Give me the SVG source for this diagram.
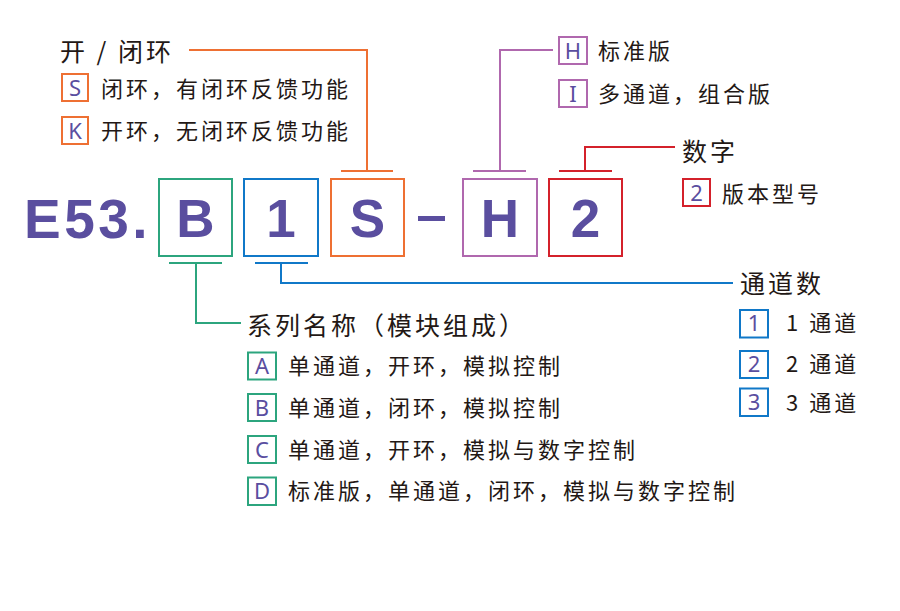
<svg xmlns="http://www.w3.org/2000/svg" width="900" height="611" viewBox="0 0 900 611">
<style>
.bg{fill:#ffffff}
.box{fill:#ffffff;stroke-width:2}
.sbox{fill:#ffffff;stroke-width:2}
.org{stroke:#ee7033}
.pur{stroke:#b068ae}
.red{stroke:#d4212b}
.grn{stroke:#2ca57e}
.blu{stroke:#1078c8}
.ln{fill:none;stroke-width:2}
.big{font-family:"Liberation Sans",Arial,sans-serif;font-weight:bold;font-size:53px;fill:#5a4e9f;text-anchor:middle}
.code{font-family:"Liberation Sans",Arial,sans-serif;font-weight:bold;font-size:55px;fill:#5a4e9f;letter-spacing:3.5px}
.key{font-family:"Noto Sans","Open Sans",sans-serif;font-size:22px;fill:#5a4e9f;text-anchor:middle}
.ttl{font-family:"Noto Sans CJK SC","Noto Sans",sans-serif;font-size:25px;fill:#231815;letter-spacing:3px}
.itm{font-family:"Noto Sans CJK SC","Noto Sans",sans-serif;font-size:22px;fill:#231815;letter-spacing:3px}
</style>
<rect class="bg" x="0" y="0" width="900" height="611"/>

<g id="connectors">
  <polyline class="ln org" points="189,50 367,50 367,171"/>
  <line class="ln org" x1="341" y1="171" x2="393" y2="171"/>
  <polyline class="ln pur" points="553,50 500,50 500,171"/>
  <line class="ln pur" x1="473" y1="171" x2="526" y2="171"/>
  <polyline class="ln red" points="675,147 585,147 585,171"/>
  <line class="ln red" x1="559" y1="171" x2="612" y2="171"/>
  <line class="ln grn" x1="169" y1="263" x2="222" y2="263"/>
  <polyline class="ln grn" points="196,263 196,323 241,323"/>
  <line class="ln blu" x1="255" y1="263" x2="308" y2="263"/>
  <polyline class="ln blu" points="281,263 281,283 733,283"/>
</g>

<g id="code">
  <text class="code" x="24" y="238">E53.</text>
  <rect x="418" y="216" width="27" height="5" fill="#5a4e9f"/>
</g>

<g id="node-B">
  <rect class="box grn" x="159" y="179" width="73" height="77"/>
  <text class="big" x="195.5" y="237">B</text>
</g>
<g id="node-1">
  <rect class="box blu" x="244" y="179" width="74" height="77"/>
  <text class="big" x="281" y="237">1</text>
</g>
<g id="node-S">
  <rect class="box org" x="331" y="179" width="73" height="77"/>
  <text class="big" x="367.5" y="237">S</text>
</g>
<g id="node-H">
  <rect class="box pur" x="463" y="179" width="74" height="77"/>
  <text class="big" x="500" y="237">H</text>
</g>
<g id="node-2">
  <rect class="box red" x="549" y="179" width="73" height="77"/>
  <text class="big" x="585.5" y="237">2</text>
</g>

<g id="legend-loop">
  <text class="ttl" x="60" y="61" xml:space="preserve">开 / 闭环</text>
  <rect class="sbox org" x="62" y="74" width="26" height="27"/>
  <text class="key" x="75" y="95.5">S</text>
  <text class="itm" x="101" y="97">闭环，有闭环反馈功能</text>
  <rect class="sbox org" x="62" y="117" width="26" height="27"/>
  <text class="key" x="75" y="138.5">K</text>
  <text class="itm" x="101" y="138.5">开环，无闭环反馈功能</text>
</g>

<g id="legend-version">
  <rect class="sbox pur" x="559" y="37" width="28" height="27"/>
  <text class="key" x="573" y="58.5">H</text>
  <text class="itm" x="598" y="59">标准版</text>
  <rect class="sbox pur" x="559" y="80" width="28" height="27"/>
  <text class="key" x="573" y="101.5">I</text>
  <text class="itm" x="598" y="102">多通道，组合版</text>
</g>

<g id="legend-digit">
  <text class="ttl" x="682" y="161">数字</text>
  <rect class="sbox red" x="683" y="179" width="27" height="27"/>
  <text class="key" x="696.5" y="200.5">2</text>
  <text class="itm" x="722" y="202">版本型号</text>
</g>

<g id="legend-channels">
  <text class="ttl" x="740" y="292.5">通道数</text>
  <rect class="sbox blu" x="740" y="310" width="28" height="27.5"/>
  <text class="key" x="754" y="331">1</text>
  <text class="itm" x="786" y="330.5">1 通道</text>
  <rect class="sbox blu" x="740" y="351" width="28" height="27"/>
  <text class="key" x="754" y="372">2</text>
  <text class="itm" x="786" y="372">2 通道</text>
  <rect class="sbox blu" x="740" y="388.5" width="28" height="27.5"/>
  <text class="key" x="754" y="410">3</text>
  <text class="itm" x="786" y="411">3 通道</text>
</g>

<g id="legend-series">
  <text class="ttl" x="247" y="334.5">系列名称（模块组成）</text>
  <rect class="sbox grn" x="248" y="352.5" width="28" height="27"/>
  <text class="key" x="262" y="374">A</text>
  <text class="itm" x="288" y="374">单通道，开环，模拟控制</text>
  <rect class="sbox grn" x="248" y="394" width="28" height="27"/>
  <text class="key" x="262" y="415.5">B</text>
  <text class="itm" x="288" y="416">单通道，闭环，模拟控制</text>
  <rect class="sbox grn" x="248" y="436" width="28" height="27"/>
  <text class="key" x="262" y="457.5">C</text>
  <text class="itm" x="288" y="457.5">单通道，开环，模拟与数字控制</text>
  <rect class="sbox grn" x="248" y="477.5" width="28" height="27.5"/>
  <text class="key" x="262" y="499">D</text>
  <text class="itm" x="288" y="499">标准版，单通道，闭环，模拟与数字控制</text>
</g>
</svg>
